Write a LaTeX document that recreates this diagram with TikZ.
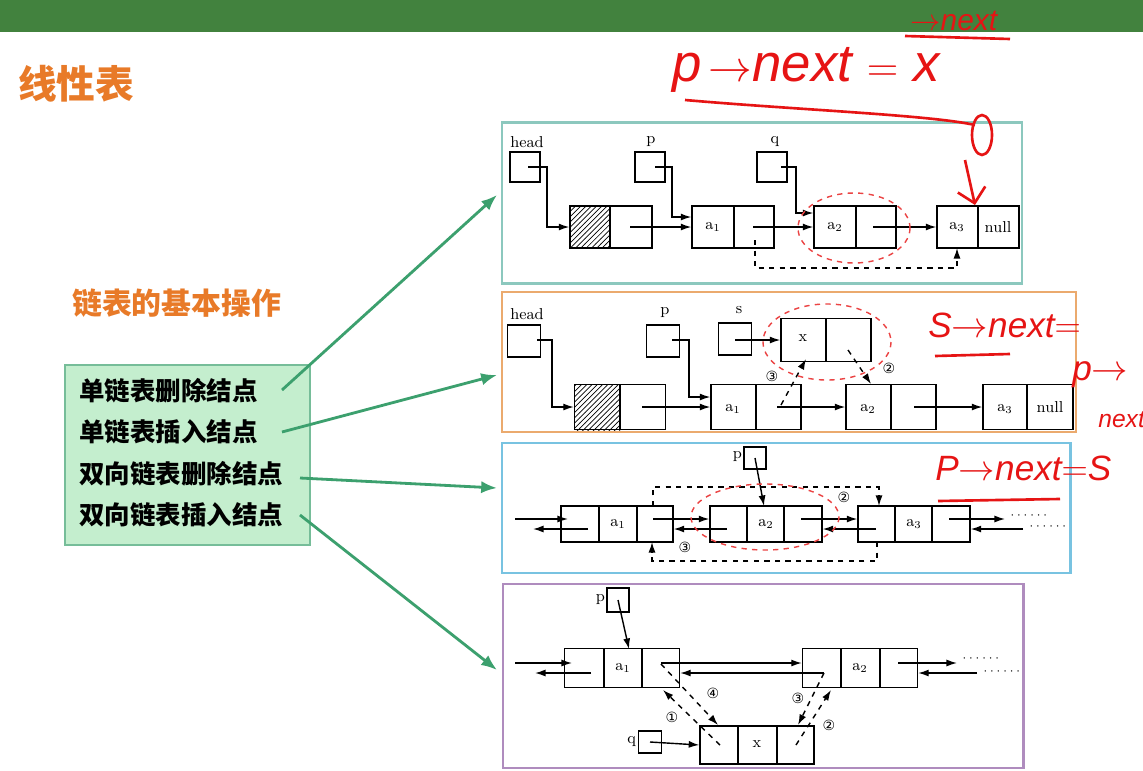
\documentclass[tikz,border=0pt]{standalone}
\usepackage{fontspec}
\usetikzlibrary{arrows.meta,patterns}
\newfontfamily\cjk{Noto Sans CJK SC}
\newfontfamily\dv{DejaVu Sans}
\newfontfamily\hand{Liberation Sans}
\definecolor{bar}{RGB}{66,130,62}
\definecolor{ttl}{RGB}{232,122,40}
\definecolor{gfill}{RGB}{196,238,206}
\definecolor{gline}{RGB}{60,160,110}
\definecolor{p1}{RGB}{140,200,190}
\definecolor{p2}{RGB}{235,170,110}
\definecolor{p3}{RGB}{120,195,225}
\definecolor{p4}{RGB}{175,140,190}
\definecolor{hred}{RGB}{230,20,20}
\tikzset{
  lnode/.style={draw,thick,inner sep=0pt,font=\fontsize{9}{10}\selectfont},
  ptr/.style={draw,thick,inner sep=0pt},
  lab/.style={inner sep=1pt,font=\fontsize{9}{10}\selectfont},
  dots/.style={inner sep=0pt,font=\fontsize{7}{8}\selectfont},
  num/.style={inner sep=0pt,font=\dv\fontsize{8}{9}\selectfont},
  arr/.style={thick,-{Latex[length=6pt,width=4pt]}},
  darr/.style={thick,dashed,-{Latex[length=6pt,width=4pt]}},
  rell/.style={draw=hred!80,thick,dashed},
  garr/.style={draw=gline,line width=1.6pt,-{Latex[length=9pt,width=7pt]}},
  panel/.style={line width=1.2pt},
  hw/.style={text=hred,font=\hand\itshape\fontsize{20}{22}\selectfont,inner sep=0pt}
}
\begin{document}
\begin{tikzpicture}[x=0.02cm,y=-0.02cm]
\useasboundingbox (0,0) rectangle (1143,771);
\fill[white] (0,0) rectangle (1143,771);
\fill[bar] (0,0) rectangle (1143,32);
% left
\node[text=ttl,font=\cjk\bfseries\fontsize{22}{24}\selectfont,anchor=west] (title) at (12,84) {线性表};
\node[text=ttl,font=\cjk\bfseries\fontsize{17}{19}\selectfont,anchor=west] (sub) at (66,303) {链表的基本操作};
\node[draw=gline!70,fill=gfill,line width=1pt,minimum width=4.9cm,minimum height=3.6cm] (box) at (187.5,455) {};
\begin{scope}[font=\cjk\bfseries\fontsize{14.5}{16}\selectfont]
\node[anchor=west] (t1) at (73,391) {单链表删除结点};
\node[anchor=west] (t2) at (73,432) {单链表插入结点};
\node[anchor=west] (t3) at (73,474) {双向链表删除结点};
\node[anchor=west] (t4) at (73,515) {双向链表插入结点};
\end{scope}
% panels
\node[panel,draw=p1,minimum width=10.4cm,minimum height=3.22cm] (P1) at (762,203) {};
\node[panel,draw=p2,minimum width=11.48cm,minimum height=2.8cm] (P2) at (789,362) {};
\node[panel,draw=p3,minimum width=11.38cm,minimum height=2.6cm] (P3) at (786,508) {};
\node[panel,draw=p4,minimum width=10.42cm,minimum height=3.68cm] (P4) at (763,676) {};
\coordinate (g1) at (497,195); \coordinate (g2) at (497,375);
\coordinate (g3) at (497,488); \coordinate (g4) at (497,670);
\draw[garr] (282,390) -- (g1);
\draw[garr] (282,432) -- (g2);
\draw[garr] (300,478) -- (g3);
\draw[garr] (300,515) -- (g4);
% ---------- panel 1
\node[lab] (h1l) at (527,142) {head};
\node[ptr,minimum size=0.6cm] (h1) at (525,167) {};
\node[lab] (p1l) at (651,142) {p};
\node[ptr,minimum size=0.6cm] (p1) at (650,167) {};
\node[lab] (q1l) at (775,142) {q};
\node[ptr,minimum size=0.6cm] (q1) at (772,167) {};
\node[lnode,minimum width=1.64cm,minimum height=0.84cm] (H1) at (611,227) {};
\fill[pattern=north east lines] (570,206) rectangle (610,248);
\draw[thick] (610,206) -- (610,248);
\node[lnode,minimum width=1.64cm,minimum height=0.84cm] (A11) at (733,227) {};
\draw[thick] (734,206) -- (734,248); \node[lab] at (713,227) {a$_1$};
\node[lnode,minimum width=1.64cm,minimum height=0.84cm] (A12) at (855,227) {};
\draw[thick] (856,206) -- (856,248); \node[lab] at (835,227) {a$_2$};
\node[lnode,minimum width=1.64cm,minimum height=0.84cm] (A13) at (978,227) {};
\draw[thick] (978,206) -- (978,248); \node[lab] at (957,227) {a$_3$}; \node[lab] at (998,227) {null};
\draw[arr] (528,167) -| (547,227) -- (H1.west);
\draw[arr] (655,167) -| (672,217) -- (A11.west |- 0,217);
\draw[arr] (781,167) -| (796,213) -- (A12.west |- 0,213);
\draw[arr] (630,227) -- (A11.west);
\draw[arr] (753,227) -- (A12.west);
\draw[arr] (873,227) -- (A13.west);
\draw[darr] (755,240) -- (755,268) -| (957,248);
\draw[rell] (854,228) ellipse (56 and 35);
% ---------- panel 2
\node[lab] (h2l) at (527,314) {head};
\node[ptr,minimum width=0.66cm,minimum height=0.64cm] (h2) at (524,341) {};
\node[lab] (p2l) at (665,313) {p};
\node[ptr,minimum width=0.66cm,minimum height=0.64cm] (p2) at (663,341) {};
\node[lab] (s2l) at (739,310) {s};
\node[ptr,minimum width=0.66cm,minimum height=0.64cm] (s2) at (735,339) {};
\node[lnode,minimum width=1.82cm,minimum height=0.9cm] (H2) at (620,407) {};
\fill[pattern=north east lines] (575,385) rectangle (620,430);
\draw[thick] (620,385) -- (620,430);
\node[lnode,minimum width=1.8cm,minimum height=0.9cm] (A21) at (756,407) {};
\draw[thick] (756,385) -- (756,430); \node[lab] at (733,409) {a$_1$};
\node[lnode,minimum width=1.8cm,minimum height=0.9cm] (A22) at (891,407) {};
\draw[thick] (891,385) -- (891,430); \node[lab] at (868,409) {a$_2$};
\node[lnode,minimum width=1.8cm,minimum height=0.9cm] (A23) at (1028,407) {};
\draw[thick] (1027,385) -- (1027,430); \node[lab] at (1005,409) {a$_3$}; \node[lab] at (1050,407) {null};
\node[lnode,minimum width=1.8cm,minimum height=0.86cm] (X2) at (826,340) {};
\draw[thick] (826,319) -- (826,362); \node[lab] at (803,338) {x};
\draw[arr] (537,340) -| (552,407) -- (H2.west);
\draw[arr] (672,340) -| (689,397) -- (A21.west |- 0,397);
\draw[arr] (735,340) -- (X2.west);
\draw[arr] (642,407) -- (A21.west);
\draw[arr] (777,407) -- (A22.west);
\draw[arr] (914,407) -- (A23.west);
\draw[darr] (781,405) -- (806,359);
\draw[darr] (848,350) -- (871,384);
\node[num] (n23) at (772,376) {③};
\node[num] (n22) at (889,368) {②};
\draw[rell] (827,342) ellipse (64 and 38);
% ---------- panel 3
\node[ptr,minimum size=0.44cm] (p3) at (755,458) {};
\node[lab,anchor=east] (p3l) at (744,457) {p};
\node[lnode,minimum width=2.24cm,minimum height=0.72cm] (A31) at (617,524) {};
\draw[thick] (599,506) -- (599,542) (637,506) -- (637,542); \node[lab] at (618,524) {a$_1$};
\node[lnode,minimum width=2.24cm,minimum height=0.72cm] (A32) at (766,524) {};
\draw[thick] (747,506) -- (747,542) (784,506) -- (784,542); \node[lab] at (766,524) {a$_2$};
\node[lnode,minimum width=2.24cm,minimum height=0.72cm] (A33) at (914,524) {};
\draw[thick] (895,506) -- (895,542) (932,506) -- (932,542); \node[lab] at (914,524) {a$_3$};
\draw[arr] (515,519) -- (568,519);
\draw[arr] (588,529) -- (533,529);
\draw[arr] (653,519) -- (A32.west |- 0,519);
\draw[arr] (727,529) -- (A31.east |- 0,529);
\draw[arr] (801,519) -- (A33.west |- 0,519);
\draw[arr] (876,529) -- (A32.east |- 0,529);
\draw[arr] (949,519) -- (1005,519);
\draw[arr] (1023,529) -- (A33.east |- 0,529);
\node[dots,anchor=west] (d31) at (1010,516) {$\cdots\cdots$};
\node[dots,anchor=west] (d32) at (1029,527) {$\cdots\cdots$};
\draw[thick,-{Latex[length=6pt,width=4pt]}] (p3.center) -- (764,506);
\draw[darr] (653,506) -- (653,487) -- (879,487) -- (879,506);
\draw[darr] (877,542) -- (877,561) -- (652,561) -- (652,542);
\node[num] (n32) at (844,497) {②};
\node[num] (n33) at (685,547) {③};
\draw[rell] (765,517) ellipse (74 and 33);
% ---------- panel 4
\node[ptr,minimum width=0.44cm,minimum height=0.48cm] (p4) at (618,600) {};
\node[lab,anchor=east] (p4l) at (607,600) {p};
\node[lnode,minimum width=2.3cm,minimum height=0.78cm] (A41) at (622,668) {};
\draw[thick] (604,649) -- (604,688) (642,649) -- (642,688); \node[lab] at (623,668) {a$_1$};
\node[lnode,minimum width=2.3cm,minimum height=0.78cm] (A42) at (860,668) {};
\draw[thick] (841,649) -- (841,688) (880,649) -- (880,688); \node[lab] at (860,668) {a$_2$};
\node[lnode,minimum width=2.28cm,minimum height=0.76cm] (X4) at (757,745) {};
\draw[thick] (738,726) -- (738,764) (777,726) -- (777,764); \node[lab] at (757,744) {x};
\node[ptr,minimum width=0.46cm,minimum height=0.44cm] (q4) at (650,742) {};
\node[lab,anchor=east] (q4l) at (638,742) {q};
\draw[arr] (p4.center) -- (629,649);
\draw[arr] (q4.center) -- (X4.west);
\draw[arr] (515,663) -- (572,663);
\draw[arr] (591,673) -- (535,673);
\draw[arr] (661,663) -- (A42.west |- 0,663);
\draw[arr] (824,673) -- (A41.east |- 0,673);
\draw[arr] (898,663) -- (957,663);
\draw[arr] (977,673) -- (A42.east |- 0,673);
\node[dots,anchor=west] (d41) at (962,659) {$\cdots\cdots$};
\node[dots,anchor=west] (d42) at (983,672) {$\cdots\cdots$};
\draw[darr] (661,664) -- (718,725);
\draw[darr] (720,745) -- (663,690);
\draw[darr] (824,673) -- (798,725);
\draw[darr] (796,745) -- (831,690);
\node[num] (n44) at (713,693) {④};
\node[num] (n41) at (672,717) {①};
\node[num] (n43) at (798,698) {③};
\node[num] (n42) at (829,725) {②};
% ---------- handwriting
\node[hw,anchor=west,font=\hand\itshape\fontsize{30}{32}\selectfont] (hw1) at (672,70) {p$\,\to$next $=$ x};
\node[hw,anchor=west,font=\hand\itshape\fontsize{17}{19}\selectfont] (hw2) at (910,21) {$\to$next};
\draw[hred,line width=1.5pt] (905,36) -- (1010,39);
\draw[hred,line width=1.5pt] (685,100) .. controls (800,110) and (930,115) .. (975,125);
\draw[hred,line width=1.5pt] (982,135) ellipse (10 and 20);
\draw[hred,line width=1.5pt,-{Straight Barb[length=8pt]}] (965,160) -- (975,205);
\node[hw,anchor=west] (hw3) at (928,325) {S$\to$next$=$};
\draw[hred,line width=1.5pt] (935,356) -- (1010,354);
\node[hw,anchor=west] (hw4) at (1072,375) {p$\to$};
\node[hw,anchor=west,font=\hand\itshape\fontsize{14}{16}\selectfont] (hw5) at (1098,420) {next};
\node[hw,anchor=west] (hw6) at (935,468) {P$\to$next$=$S};
\draw[hred,line width=1.5pt] (938,501) -- (1060,499);
\end{tikzpicture}
\end{document}
